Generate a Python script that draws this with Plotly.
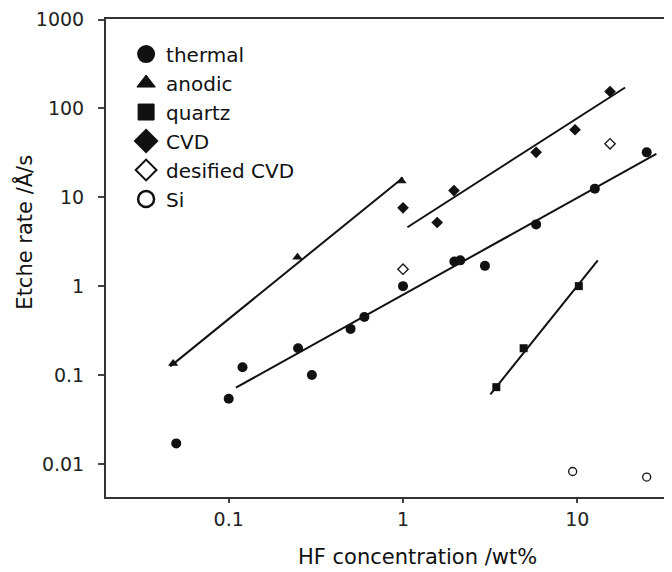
import plotly.graph_objects as go

# ---- data (log-log) ----
thermal_x = [0.05, 0.1, 0.12, 0.25, 0.3, 0.5, 0.6, 1.0, 1.97, 2.13, 2.95, 5.8, 12.6, 25.0]
thermal_y = [0.017, 0.054, 0.122, 0.20, 0.10, 0.33, 0.45, 1.0, 1.89, 1.95, 1.69, 4.95, 12.5, 32.0]

anodic_x = [0.048, 0.248, 0.98]
anodic_y = [0.135, 2.12, 15.2]

quartz_x = [3.43, 4.92, 10.2]
quartz_y = [0.073, 0.20, 1.0]

cvd_x = [1.0, 1.57, 1.96, 5.8, 9.7, 15.4]
cvd_y = [7.6, 5.2, 11.9, 32.0, 57.5, 155.0]

desified_x = [1.0, 15.4]
desified_y = [1.55, 40.0]

si_x = [9.4, 25.0]
si_y = [0.0082, 0.0071]

# fitted lines (end points)
fit_thermal_x = [0.11, 28.4]
fit_thermal_y = [0.072, 30.8]
fit_anodic_x = [0.0462, 1.0]
fit_anodic_y = [0.125, 16.6]
fit_cvd_x = [1.06, 18.8]
fit_cvd_y = [4.6, 172.0]
fit_quartz_x = [3.17, 13.1]
fit_quartz_y = [0.0605, 1.95]

x_tick_vals = [0.1, 1, 10]
x_tick_text = ["0.1", "1", "10"]
y_tick_vals = [0.01, 0.1, 1, 10, 100, 1000]
y_tick_text = ["0.01", "0.1", "1", "10", "100", "1000"]

series_names = ["thermal", "anodic", "quartz", "CVD", "desified CVD", "Si"]

FONT = "DejaVu Sans"
INK = "#111111"

fig = go.Figure()

# fit lines
for fx, fy in [(fit_thermal_x, fit_thermal_y), (fit_anodic_x, fit_anodic_y),
               (fit_cvd_x, fit_cvd_y), (fit_quartz_x, fit_quartz_y)]:
    fig.add_trace(go.Scatter(x=fx, y=fy, mode="lines", showlegend=False,
                             line=dict(color=INK, width=2), hoverinfo="skip"))

styles = {
    "thermal": dict(symbol="circle", size=10, color=INK, line=dict(width=0, color=INK)),
    "anodic": dict(symbol="triangle-up", size=9, color=INK, line=dict(width=0, color=INK)),
    "quartz": dict(symbol="square", size=8, color=INK, line=dict(width=0, color=INK)),
    "CVD": dict(symbol="diamond", size=9, color=INK, line=dict(width=0, color=INK)),
    "desified CVD": dict(symbol="diamond-open", size=8, color=INK, line=dict(width=1.3, color=INK)),
    "Si": dict(symbol="circle-open", size=8, color=INK, line=dict(width=1.3, color=INK)),
}
legend_styles = {
    "thermal": dict(symbol="circle", size=16, color=INK, line=dict(width=2, color=INK)),
    "anodic": dict(symbol="triangle-up", size=16, color=INK, line=dict(width=1, color=INK)),
    "quartz": dict(symbol="square", size=16, color=INK, line=dict(width=1, color=INK)),
    "CVD": dict(symbol="diamond", size=16, color=INK, line=dict(width=3, color=INK)),
    "desified CVD": dict(symbol="diamond-open", size=16, color=INK, line=dict(width=2, color=INK)),
    "Si": dict(symbol="circle-open", size=16, color=INK, line=dict(width=2.5, color=INK)),
}

data = {
    "thermal": (thermal_x, thermal_y),
    "anodic": (anodic_x, anodic_y),
    "quartz": (quartz_x, quartz_y),
    "CVD": (cvd_x, cvd_y),
    "desified CVD": (desified_x, desified_y),
    "Si": (si_x, si_y),
}

for name in series_names:
    xs, ys = data[name]
    fig.add_trace(go.Scatter(x=xs, y=ys, mode="markers", name=name, showlegend=False,
                             marker=styles[name]))
# legend keys (larger symbols, no data of their own)
for name in series_names:
    fig.add_trace(go.Scatter(x=[None], y=[None], mode="markers", name=name,
                             showlegend=True, marker=legend_styles[name]))

# the page body adds an 8px offset; margins compensate so the plot area
# lands at x 106..(beyond right edge), y 16..497 in the window
fig.update_layout(
    width=672, height=572,
    margin=dict(l=98, r=0, t=8, b=83),
    paper_bgcolor="white", plot_bgcolor="white",
    font=dict(family=FONT, color=INK),
    showlegend=True,
    legend=dict(x=0.035, y=0.9675, xanchor="left", yanchor="top",
                bgcolor="rgba(0,0,0,0)", borderwidth=0,
                font=dict(family=FONT, size=20, color=INK),
                tracegroupgap=0),
)

fig.update_xaxes(
    type="log", range=[-1.704, 1.589],
    tickvals=x_tick_vals, ticktext=x_tick_text,
    ticks="outside", ticklen=4, tickwidth=1.5, tickcolor="#444",
    tickfont=dict(family=FONT, size=19, color="#222"),
    showline=True, linecolor="#333", linewidth=2, mirror=True,
    showgrid=False, zeroline=False,
)
fig.update_yaxes(
    type="log", range=[-2.373, 3.006],
    tickvals=y_tick_vals, ticktext=y_tick_text,
    ticks="outside", ticklen=6, tickwidth=1.5, tickcolor="#444",
    ticklabelstandoff=10, ticklabeloverflow="allow",
    tickfont=dict(family=FONT, size=19, color="#222"),
    showline=True, linecolor="#333", linewidth=2, mirror=False,
    showgrid=False, zeroline=False,
)

fig.add_annotation(text="HF concentration /wt%", xref="paper", yref="paper",
                   x=0.542, y=-0.125, xanchor="center", yanchor="middle",
                   showarrow=False, font=dict(family=FONT, size=21, color=INK))
fig.add_annotation(text="Etche rate /Å/s", xref="paper", yref="paper",
                   x=-0.143, y=0.555, xanchor="center", yanchor="middle",
                   textangle=-90, showarrow=False,
                   font=dict(family=FONT, size=21, color=INK))

fig.write_html("out.html")
